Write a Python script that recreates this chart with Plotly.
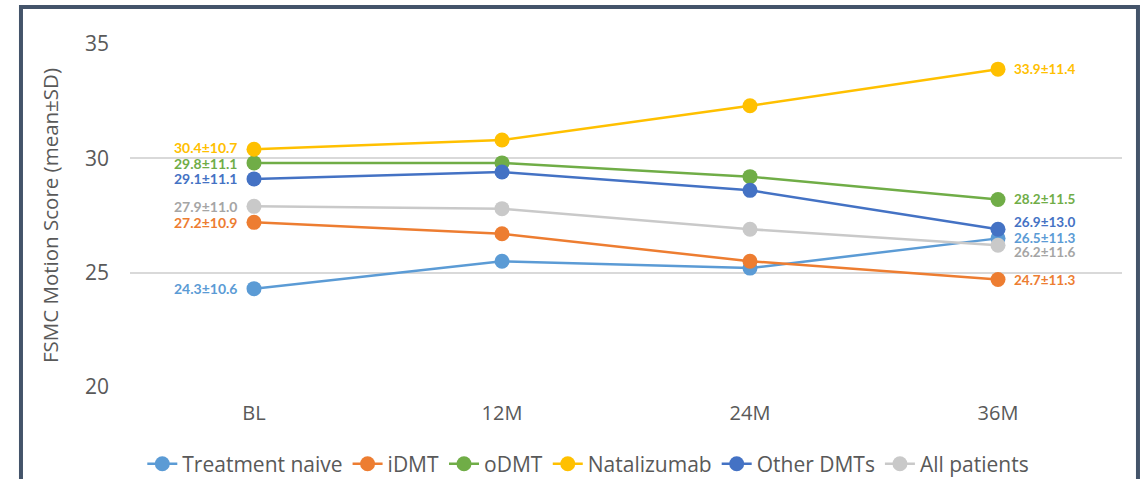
import plotly.graph_objects as go

# Visit time points
timepoints = ["BL", "12M", "24M", "36M"]

# FSMC motion score, mean per visit
treatment_naive = [24.3, 25.5, 25.2, 26.5]
idmt = [27.2, 26.7, 25.5, 24.7]
odmt = [29.8, 29.8, 29.2, 28.2]
natalizumab = [30.4, 30.8, 32.3, 33.9]
other_dmts = [29.1, 29.4, 28.6, 26.9]
all_patients = [27.9, 27.8, 26.9, 26.2]

# Standard deviations at BL and 36M (shown in the end-point labels)
sd_bl = [10.6, 10.9, 11.1, 10.7, 11.1, 11.0]
sd_36m = [11.3, 11.3, 11.5, 11.4, 13.0, 11.6]

group_names = ["Treatment naive", "iDMT", "oDMT", "Natalizumab", "Other DMTs", "All patients"]
group_values = [treatment_naive, idmt, odmt, natalizumab, other_dmts, all_patients]
line_colors = ["#5B9BD5", "#ED7D31", "#70AD47", "#FFC000", "#4472C4", "#C9C9C9"]
label_colors = ["#5B9BD5", "#ED7D31", "#70AD47", "#FFC000", "#4472C4", "#A5A5A5"]
# small vertical nudges (px) so the crowded labels don't overlap
shift_bl = [0, 0, -1, 2, 0, 0]
shift_36m = [0, 0, 0, 0, 7, -7]

fig = go.Figure()

for name, vals, col in zip(group_names, group_values, line_colors):
    fig.add_trace(go.Scatter(
        x=timepoints, y=vals, name=name, mode="lines+markers",
        line=dict(color=col, width=2.5),
        marker=dict(color=col, size=15),
    ))

annotations = []
for vals, lc, sb, se, yb, ye in zip(group_values, label_colors, sd_bl, sd_36m, shift_bl, shift_36m):
    annotations.append(dict(
        x=timepoints[0], y=vals[0], text=f"{vals[0]:.1f}±{sb:.1f}",
        showarrow=False, xanchor="right", xshift=-14, yshift=yb,
        font=dict(family="Lato", size=14, color=lc, weight="bold"),
    ))
    annotations.append(dict(
        x=timepoints[-1], y=vals[-1], text=f"{vals[-1]:.1f}±{se:.1f}",
        showarrow=False, xanchor="left", xshift=14, yshift=ye,
        font=dict(family="Lato", size=13.5, color=lc, weight="bold"),
    ))

fig.update_layout(
    width=1143, height=479,
    margin=dict(l=130, r=21, t=44, b=92, autoexpand=False),
    paper_bgcolor="white", plot_bgcolor="white",
    font=dict(family="Open Sans", color="#595959"),
    showlegend=True,
    legend=dict(
        orientation="h", x=0.462, xanchor="center", y=-0.165, yanchor="top",
        font=dict(size=21, color="#595959"), tracegroupgap=0,
    ),
    annotations=annotations,
    shapes=[dict(
        type="rect", xref="paper", yref="paper",
        x0=-0.1099, x1=1.0161, y0=-0.35, y1=1.1079,
        line=dict(color="#44546A", width=4), layer="above",
    )],
)

fig.update_xaxes(
    type="category", range=[-0.5, 3.5], showgrid=False, showline=False,
    zeroline=False, ticks="", tickfont=dict(size=20, color="#595959"),
    ticklabelstandoff=12,
)
fig.update_yaxes(
    range=[20, 35], dtick=5, showgrid=True, gridcolor="#D9D9D9", gridwidth=2,
    zeroline=False, showline=False, ticks="",
    tickfont=dict(size=21, color="#595959"), ticklabelstandoff=20,
    title=dict(text="FSMC Motion Score (mean±SD)", font=dict(size=20.5, color="#595959"), standoff=20),
)

fig.write_html("out.html")
